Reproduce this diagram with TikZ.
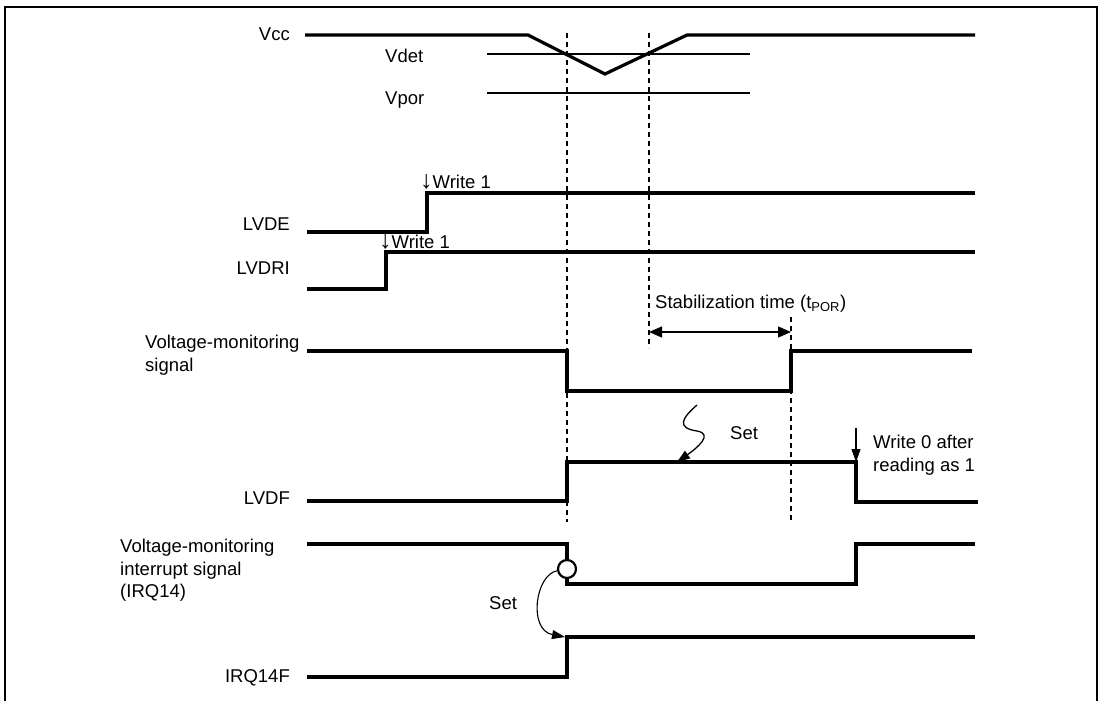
\documentclass[tikz,border=0pt]{standalone}
\usepackage{fontspec}
\setmainfont{Liberation Sans}
\usetikzlibrary{arrows.meta}

\newcommand{\dnarrow}{{\fontsize{25}{25}\selectfont ↓}}

\begin{document}
\begin{tikzpicture}[x=1pt, y=-1pt,
        sig/.style={line width=3.2pt, line join=miter},
        thinline/.style={line width=1.5pt},
        guide/.style={line width=1.5pt, dash pattern=on 5pt off 4pt},
        lbl/.style={inner sep=0pt, font=\fontsize{18.5}{22.5}\selectfont},
        arrow/.style={-{Triangle[length=13pt, width=9pt]}, line width=1.3pt}
    ]

    % Frame
    \useasboundingbox (0,0) rectangle (1102,701);
    \draw[line width=2.6pt] (5,701) |- (1097,7) -- (1097,701);

    % Vcc
    \node[lbl, anchor=base east] (vcc) at (290,41) {Vcc};
    \draw[sig] (305,35) -- (528,35) -- (605,74) -- (687,35) -- (975,35);
    \node[lbl, anchor=base west] (vdet) at (385,63) {Vdet};
    \draw[thinline] (487,54) -- (750,54);
    \node[lbl, anchor=base west] (vpor) at (385,104) {Vpor};
    \draw[thinline] (487,93) -- (750,93);

    % Guides
    \draw[guide] (567,33) -- (567,522);
    \draw[guide] (649,33) -- (649,348);
    \draw[guide] (791,317) -- (791,522);

    % LVDE
    \node[lbl, anchor=base east] (lvde) at (290,230) {LVDE};
    \draw[sig] (307,232) -- (427,232) -- (427,193) -- (975,193);
    \node[lbl, anchor=base west] (wrA) at (420,188) {\dnarrow Write 1};

    % LVDRI
    \node[lbl, anchor=base east] (lvdri) at (290,274) {LVDRI};
    \draw[sig] (307,289) -- (386,289) -- (386,252) -- (975,252);
    \node[lbl, anchor=base west] (wrB) at (379,248) {\dnarrow Write 1};

    % Stabilization time
    \coordinate (stA) at (649,332);
    \coordinate (stB) at (791,332);
    \draw[{Triangle[length=13pt, width=11pt]}-{Triangle[length=13pt, width=11pt]}, line width=1.3pt] (stA) -- (stB);
    \node[lbl, anchor=base west] (stab) at (655,308) {Stabilization time (t\textsubscript{POR})};

    % Voltage-monitoring signal
    \node[lbl, anchor=north west, align=left] (vmon) at (145,335) {Voltage-monitoring\\signal};
    \draw[sig] (307,351) -- (567,351) -- (567,391) -- (791,391) -- (791,351) -- (972,351);

    % LVDF
    \node[lbl, anchor=base east] (lvdf) at (290,504) {LVDF};
    \draw[sig] (307,501) -- (567,501) -- (567,462) -- (856,462) -- (856,502) -- (978,502);
    \coordinate (setA) at (697,405);
    \coordinate (setB) at (677,462);
    \draw[arrow] (setA) .. controls (682,418) and (676,428) .. (697,431)
        .. controls (714,434) and (697,448) .. (setB);
    \node[lbl, anchor=base west] (setU) at (730,439) {Set};
    \coordinate (wrTop) at (856,428);
    \coordinate (wrBot) at (856,462);
    \draw[arrow] (wrTop) -- (wrBot);
    \node[lbl, anchor=north west, align=left] (wr0) at (873,435) {Write 0 after\\reading as 1};

    % Interrupt signal
    \node[lbl, anchor=north west, align=left] (irq) at (120,539) {Voltage-monitoring\\interrupt signal\\(IRQ14)};
    \draw[sig] (307,544) -- (567,544) -- (567,560);
    \node[circle, draw, line width=2.2pt, minimum size=18pt, inner sep=0pt] (bub) at (567,569) {};
    \draw[sig] (bub.south) -- (567,584) -- (856,584) -- (856,544) -- (975,544);

    % IRQ14F
    \node[lbl, anchor=base east] (irqf) at (290,682) {IRQ14F};
    \draw[sig] (307,677) -- (567,677) -- (567,637) -- (975,637);
    \coordinate (setC) at (565,637);
    \draw[arrow, line width=1.1pt] (bub.190) .. controls (535,575) and (528,630) .. (setC);
    \node[lbl, anchor=base west] (setL) at (489,609) {Set};

\end{tikzpicture}
\end{document}
